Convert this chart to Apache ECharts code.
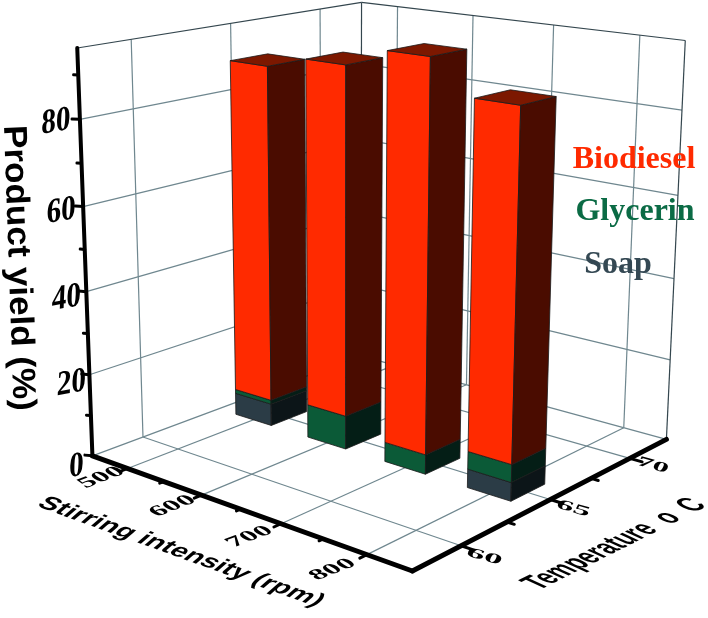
<!DOCTYPE html>
<html>
<head>
<meta charset="utf-8">
<style>html,body{margin:0;padding:0;background:#fff}#main{width:708px;height:618px}</style>
<script src="https://cdn.jsdelivr.net/npm/echarts@6/dist/echarts.min.js"></script>
</head>
<body>
<div id="main"></div>
<script>
// data
const stirring = [500, 600, 700, 800];
const temperature = [65, 65, 65, 65];
const soap = [5.5, 0, 0, 4.4];
const glycerin = [1, 8.2, 4.7, 4.2];
const biodiesel = [82, 83.3, 91.3, 79.8];

const stirTicks = [500, 600, 700, 800];
const stirMinor = [550, 650, 750];
const tempTicks = [60, 65, 70];
const tempMinor = [62.5, 67.5];
const yieldTicks = [0, 20, 40, 60, 80];
const yieldMinor = [10, 30, 50, 70, 90];
const legendNames = ['Biodiesel', 'Glycerin', 'Soap'];

const xMin = 450, xMax = 850, tMin = 57.5, tMax = 72.5, zMax = 96;
const barW = 50, barD = 2;

// camera fitted to the box corners seen in the picture
const calib = [
  [0, 0, 0, 93, 455], [1, 0, 0, 412, 572], [1, 1, 0, 667, 438], [0, 1, 0, 360, 357],
  [0, 0, 1, 77, 48], [1, 1, 1, 685, 41], [0, 1, 1, 362, 2]
];
function solveCamera(pts) {
  const rows = [];
  pts.forEach(p => {
    rows.push([p[0], p[1], p[2], 1, 0, 0, 0, 0, -p[3] * p[0], -p[3] * p[1], -p[3] * p[2], p[3]]);
    rows.push([0, 0, 0, 0, p[0], p[1], p[2], 1, -p[4] * p[0], -p[4] * p[1], -p[4] * p[2], p[4]]);
  });
  const n = 11, m = [];
  for (let i = 0; i < n; i++) {
    m[i] = [];
    for (let j = 0; j <= n; j++) {
      let s = 0;
      rows.forEach(r => { s += r[i] * r[j]; });
      m[i][j] = s;
    }
  }
  for (let i = 0; i < n; i++) {
    let best = i;
    for (let k = i + 1; k < n; k++) if (Math.abs(m[k][i]) > Math.abs(m[best][i])) best = k;
    const t = m[i]; m[i] = m[best]; m[best] = t;
    for (let k = 0; k < n; k++) {
      if (k === i) continue;
      const f = m[k][i] / m[i][i];
      for (let j = i; j <= n; j++) m[k][j] -= f * m[i][j];
    }
  }
  return m.map((r, i) => r[n] / r[i]);
}
const cam = solveCamera(calib);
function project(x, t, z) {
  const X = (x - xMin) / (xMax - xMin), Y = (t - tMin) / (tMax - tMin), Z = z / zMax;
  const w = cam[8] * X + cam[9] * Y + cam[10] * Z + 1;
  return [(cam[0] * X + cam[1] * Y + cam[2] * Z + cam[3]) / w, (cam[4] * X + cam[5] * Y + cam[6] * Z + cam[7]) / w];
}

function lineSeries(segs, color, width, cap) {
  return {
    type: 'custom', coordinateSystem: 'none', silent: true, clip: false,
    data: segs.map((s, i) => i),
    renderItem: function (params) {
      const s = segs[params.dataIndex];
      const a = project(s[0], s[1], s[2]), b = project(s[3], s[4], s[5]);
      return {
        type: 'line', silent: true,
        shape: { x1: a[0], y1: a[1], x2: b[0], y2: b[1] },
        style: { stroke: color, lineWidth: width, lineCap: cap || 'butt' }
      };
    }
  };
}

function face(pts, fill) {
  return {
    type: 'polygon', silent: true,
    shape: { points: pts },
    style: { fill: fill, stroke: '#1a1a1a', lineWidth: 0.8, lineJoin: 'round' }
  };
}

// one stacked layer of all four bars
function barSeries(name, values, bases, colors) {
  return {
    name: name, type: 'custom', coordinateSystem: 'none', silent: true, clip: false,
    data: values.map((v, i) => [stirring[i], temperature[i], bases[i], v]),
    renderItem: function (params, api) {
      const v = api.value(3);
      if (!v) return null;
      const x = api.value(0), t = api.value(1), z0 = api.value(2), z1 = z0 + v;
      const x0 = x - barW / 2, x1 = x + barW / 2, t0 = t - barD / 2, t1 = t + barD / 2;
      const kids = [
        face([project(x0, t0, z0), project(x1, t0, z0), project(x1, t0, z1), project(x0, t0, z1)], colors[0]),
        face([project(x1, t0, z0), project(x1, t1, z0), project(x1, t1, z1), project(x1, t0, z1)], colors[1])
      ];
      if (colors[2]) {
        kids.push(face([project(x0, t0, z1), project(x1, t0, z1), project(x1, t1, z1), project(x0, t1, z1)], colors[2]));
      }
      return { type: 'group', children: kids };
    }
  };
}

// text under any 2x2 map: u and v are where the text's x and y unit vectors land
function skewText(text, pos, u, v, font, fill) {
  const E = (u[0] + v[1]) / 2, F = (u[0] - v[1]) / 2, G = (u[1] + v[0]) / 2, H = (u[1] - v[0]) / 2;
  const Q = Math.hypot(E, H), R = Math.hypot(F, G);
  const a1 = Math.atan2(G, F), a2 = Math.atan2(H, E);
  return {
    type: 'group', x: pos[0], y: pos[1], silent: true,
    rotation: -(a2 + a1) / 2, scaleX: Q + R, scaleY: Q - R,
    children: [{
      type: 'text', rotation: -(a2 - a1) / 2, silent: true,
      style: { text: text, x: 0, y: 0, font: font, fill: fill, align: 'center', verticalAlign: 'middle' }
    }]
  };
}

function textSeries(items) {
  return {
    type: 'custom', coordinateSystem: 'none', silent: true, clip: false,
    data: items.map((s, i) => i),
    renderItem: function (params) {
      const it = items[params.dataIndex];
      return skewText(it.text, it.pos, it.u, it.v, it.font, it.fill);
    }
  };
}

// walls and floor grid
const grid = [];
yieldTicks.slice(1).forEach(z => {
  grid.push([xMin, tMin, z, xMin, tMax, z]);
  grid.push([xMin, tMax, z, xMax, tMax, z]);
});
tempTicks.forEach(t => {
  grid.push([xMin, t, 0, xMin, t, zMax]);
  grid.push([xMin, t, 0, xMax, t, 0]);
});
stirTicks.forEach(x => {
  grid.push([x, tMax, 0, x, tMax, zMax]);
  grid.push([x, tMin, 0, x, tMax, 0]);
});
grid.push([xMin, tMax, 0, xMax, tMax, 0]);
grid.push([xMin, tMin, 0, xMin, tMax, 0]);
const frame = [
  [xMin, tMin, zMax, xMin, tMax, zMax],
  [xMin, tMax, zMax, xMax, tMax, zMax],
  [xMax, tMax, 0, xMax, tMax, zMax],
  [xMin, tMax, 0, xMin, tMax, zMax]
];
const zAxis = [[xMin, tMin, 0, xMin, tMin, zMax]];
const floorAxes = [
  [xMin, tMin, 0, xMax, tMin, 0],
  [xMax, tMin, 0, xMax, tMax, 0]
];
const ticks = [];
yieldTicks.forEach(z => ticks.push([xMin, tMin, z, xMin - 7, tMin - 0.13, z]));
stirTicks.forEach(x => ticks.push([x, tMin, 0, x, tMin - 0.35, 0]));
tempTicks.forEach(t => ticks.push([xMax, t, 0, xMax + 14, t, 0]));
const minor = [];
yieldMinor.forEach(z => minor.push([xMin, tMin, z, xMin - 4, tMin - 0.08, z]));
stirMinor.forEach(x => minor.push([x, tMin, 0, x, tMin - 0.2, 0]));
tempMinor.forEach(t => minor.push([xMax, t, 0, xMax + 8, t, 0]));

const serif = 'bold 26px "Liberation Serif"';
const sans = 'bold 30px "Liberation Sans"';
const labels = [];
yieldTicks.forEach(z => {
  const p = project(xMin, tMin, z);
  labels.push({ text: String(z), pos: [p[0] - 16 - z * 0.1, p[1] + 3 + (80 - z) * 0.1], u: [1.12, -0.2], v: [-0.05, 1.35], font: serif, fill: '#000' });
});
stirTicks.forEach(x => {
  const p = project(x, tMin, 0);
  labels.push({ text: String(x), pos: [p[0] - 26 - (x - 500) * 0.027, p[1] + 9 + (x - 500) * 0.02], u: [1.05, -0.4], v: [0.65, 0.45], font: serif, fill: '#000' });
});
tempTicks.forEach(t => {
  const p = project(xMax, t, 0);
  const s = 1 - (t - 60) * 0.012;
  labels.push({ text: String(t), pos: [p[0] + 23, p[1] + 11 - (t - 60) * 0.4], u: [1.35 * s, 0.38 * s], v: [-0.25, 0.5], font: serif, fill: '#000' });
});
labels.push({ text: 'Product yield (%)', pos: [18, 268], u: [0.04, 1.165], v: [-1.1, 0.05], font: sans, fill: '#000' });
labels.push({ text: 'Stirring intensity (rpm)', pos: [181, 552], u: [1, 0.36], v: [-0.7, 0.6], font: 'bold 26px "Liberation Sans"', fill: '#000' });
labels.push({ text: 'Temperature  o  C', pos: [615, 544], u: [0.77, -0.385], v: [1.2, 0.55], font: 'bold 26px "Liberation Sans"', fill: '#000' });
const legendFills = ['#ff2a00', '#0b6b45', '#344853'];
const legendPos = [[634, 160], [635, 212], [618, 265]];
legendNames.forEach((n, i) => {
  labels.push({ text: n, pos: legendPos[i], u: [1, 0], v: [0, 1], font: 'bold 32px "Liberation Serif"', fill: legendFills[i] });
});

const soapTop = soap.slice();
const glyTop = glycerin.map((v, i) => v + soap[i]);

const chart = echarts.init(document.getElementById('main'), null, { renderer: 'canvas' });
chart.setOption({
  backgroundColor: '#fff',
  animation: false,
  series: [
    lineSeries(grid, '#6f878f', 1.2),
    lineSeries(frame, '#34464e', 1.2),
    barSeries('Soap', soap, soap.map(() => 0), ['#2b3c46', '#0c1518']),
    barSeries('Glycerin', glycerin, soapTop, ['#0b5a37', '#041e16']),
    barSeries('Biodiesel', biodiesel, glyTop, ['#ff2a00', '#4a0c00', '#7c1800']),
    lineSeries(minor, '#000', 3, 'round'),
    lineSeries(ticks, '#000', 3, 'round'),
    lineSeries(zAxis, '#000', 4, 'round'),
    lineSeries(floorAxes, '#000', 5, 'round'),
    textSeries(labels)
  ]
});
</script>
</body>
</html>
